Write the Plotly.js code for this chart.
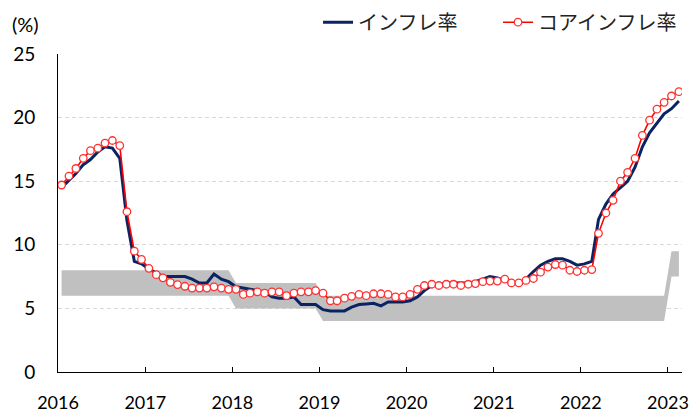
<!DOCTYPE html>
<html>
<head>
<meta charset="utf-8">
<script src="https://cdn.plot.ly/plotly-3.0.1.min.js"></script>
<style>
  html, body { margin: 0; padding: 0; background: #fff; }
  #chart { width: 694px; height: 414px; }
</style>
</head>
<body>
<div id="chart"></div>
<script>
// Monthly series Jan 2016 – Feb 2023
const startYear = 2016;
const monthCount = 86;

const inflation = [
  14.5, 15.1, 15.6, 16.3, 16.7, 17.3, 17.7, 17.6, 16.8, 11.9, 8.7, 8.5,
  8.1, 7.8, 7.5, 7.5, 7.5, 7.5, 7.3, 7.0, 7.0, 7.7, 7.3, 7.1,
  6.7, 6.6, 6.5, 6.4, 6.3, 5.9, 5.8, 5.8, 5.9, 5.3, 5.3, 5.3,
  4.9, 4.8, 4.8, 4.8, 5.1, 5.3, 5.35, 5.4, 5.2, 5.5, 5.5, 5.5,
  5.6, 5.9, 6.4, 6.8, 6.9, 7.0, 7.0, 7.0, 7.0, 7.1, 7.3, 7.5,
  7.4, 7.2, 7.0, 6.9, 7.3, 7.9, 8.4, 8.7, 8.9, 8.9, 8.7, 8.4,
  8.5, 8.7, 12.0, 13.2, 14.0, 14.5, 15.0, 16.1, 17.7, 18.8, 19.6, 20.3,
  20.7, 21.3
];

const coreInflation = [
  14.7, 15.4, 16.0, 16.8, 17.4, 17.6, 18.0, 18.2, 17.8, 12.6, 9.5, 8.85,
  8.15, 7.65, 7.4, 7.05, 6.87, 6.74, 6.6, 6.6, 6.6, 6.7, 6.6, 6.5,
  6.5, 6.1, 6.2, 6.3, 6.2, 6.3, 6.3, 6.0, 6.2, 6.3, 6.3, 6.4,
  6.2, 5.6, 5.6, 5.8, 5.95, 6.1, 6.0, 6.15, 6.15, 6.1, 5.9, 5.9,
  6.1, 6.5, 6.8, 6.9, 6.8, 6.9, 6.9, 6.8, 6.9, 6.95, 7.1, 7.15,
  7.15, 7.3, 7.0, 7.0, 7.2, 7.35, 7.85, 8.25, 8.45, 8.4, 8.0, 7.9,
  8.0, 8.05, 10.9, 12.5, 13.5, 15.0, 15.7, 16.8, 18.6, 19.8, 20.66, 21.2,
  21.7, 22.04
];

// Target corridor by year
const targetYears = [2016, 2017, 2018, 2019, 2020, 2021, 2022, 2023];
const targetLow   = [6, 6, 5, 4, 4, 4, 4, 7.5];
const targetHigh  = [8, 8, 7, 6, 6, 6, 6, 9.5];

const yearLabels = ['2016', '2017', '2018', '2019', '2020', '2021', '2022', '2023'];

// Build month dates (mid-month positions)
const months = [];
for (let i = 0; i < monthCount; i++) {
  const y = startYear + Math.floor(i / 12);
  const m = (i % 12) + 1;
  months.push(y + '-' + String(m).padStart(2, '0') + '-16');
}
const bandLow = months.map(d => targetLow[targetYears.indexOf(+d.slice(0, 4))]);
const bandHigh = months.map(d => targetHigh[targetYears.indexOf(+d.slice(0, 4))]);

const FONT = 'Lato, "Noto Sans CJK JP", sans-serif';

const traces = [
  { x: months, y: bandLow, type: 'scatter', mode: 'lines',
    line: { width: 0, color: 'rgba(0,0,0,0)' }, showlegend: false, hoverinfo: 'skip' },
  { x: months, y: bandHigh, type: 'scatter', mode: 'lines', fill: 'tonexty',
    fillcolor: '#c0c0c0', line: { width: 0, color: 'rgba(0,0,0,0)' },
    showlegend: false, hoverinfo: 'skip' },
  { x: months, y: inflation, type: 'scatter', mode: 'lines', name: 'インフレ率',
    line: { color: '#0a2463', width: 3 } },
  { x: months, y: coreInflation, type: 'scatter', mode: 'lines+markers', name: 'コアインフレ率',
    line: { color: '#ff0000', width: 1.6 },
    marker: { symbol: 'circle', size: 7.5, color: '#ffffff', line: { color: '#ff3030', width: 1.3 } } }
];

const layout = {
  width: 694, height: 414,
  margin: { l: 58, r: 12, t: 54, b: 42, autoexpand: false },
  paper_bgcolor: '#ffffff', plot_bgcolor: '#ffffff',
  font: { family: FONT, size: 19, color: '#000000' },
  showlegend: true,
  legend: {
    orientation: 'h', x: 0.4167, xanchor: 'left', y: 1.1, yanchor: 'middle',
    entrywidth: 135, entrywidthmode: 'pixels',
    font: { family: '"Noto Sans CJK JP", sans-serif', size: 20, color: '#222222' },
    bgcolor: 'rgba(0,0,0,0)', traceorder: 'normal'
  },
  xaxis: {
    type: 'date',
    range: ['2016-01-01', '2023-03-01'],
    tickvals: yearLabels.map(y => y + '-01-01'),
    ticktext: yearLabels,
    ticks: 'inside', ticklen: 5, tickcolor: '#000000', tickwidth: 1,
    showline: true, linecolor: '#000000', linewidth: 1,
    showgrid: false, zeroline: false,
    ticklabelstandoff: 14,
    tickfont: { family: FONT, size: 18, color: '#000000' }
  },
  yaxis: {
    range: [0, 25], tickvals: [0, 5, 10, 15, 20, 25],
    ticks: '', showline: true, linecolor: '#000000', linewidth: 1,
    showgrid: true, gridcolor: '#d9d9d9', griddash: '4px,3px', gridwidth: 1,
    zeroline: false, ticklabelstandoff: 18,
    tickfont: { family: FONT, size: 19, color: '#000000' }
  },
  annotations: [
    { text: '(%)', xref: 'paper', yref: 'paper', x: -0.077, y: 1.093,
      xanchor: 'left', yanchor: 'middle', showarrow: false,
      font: { family: FONT, size: 20, color: '#000000' } }
  ]
};

Plotly.newPlot('chart', traces, layout, { displayModeBar: false, staticPlot: true });
</script>
</body>
</html>
